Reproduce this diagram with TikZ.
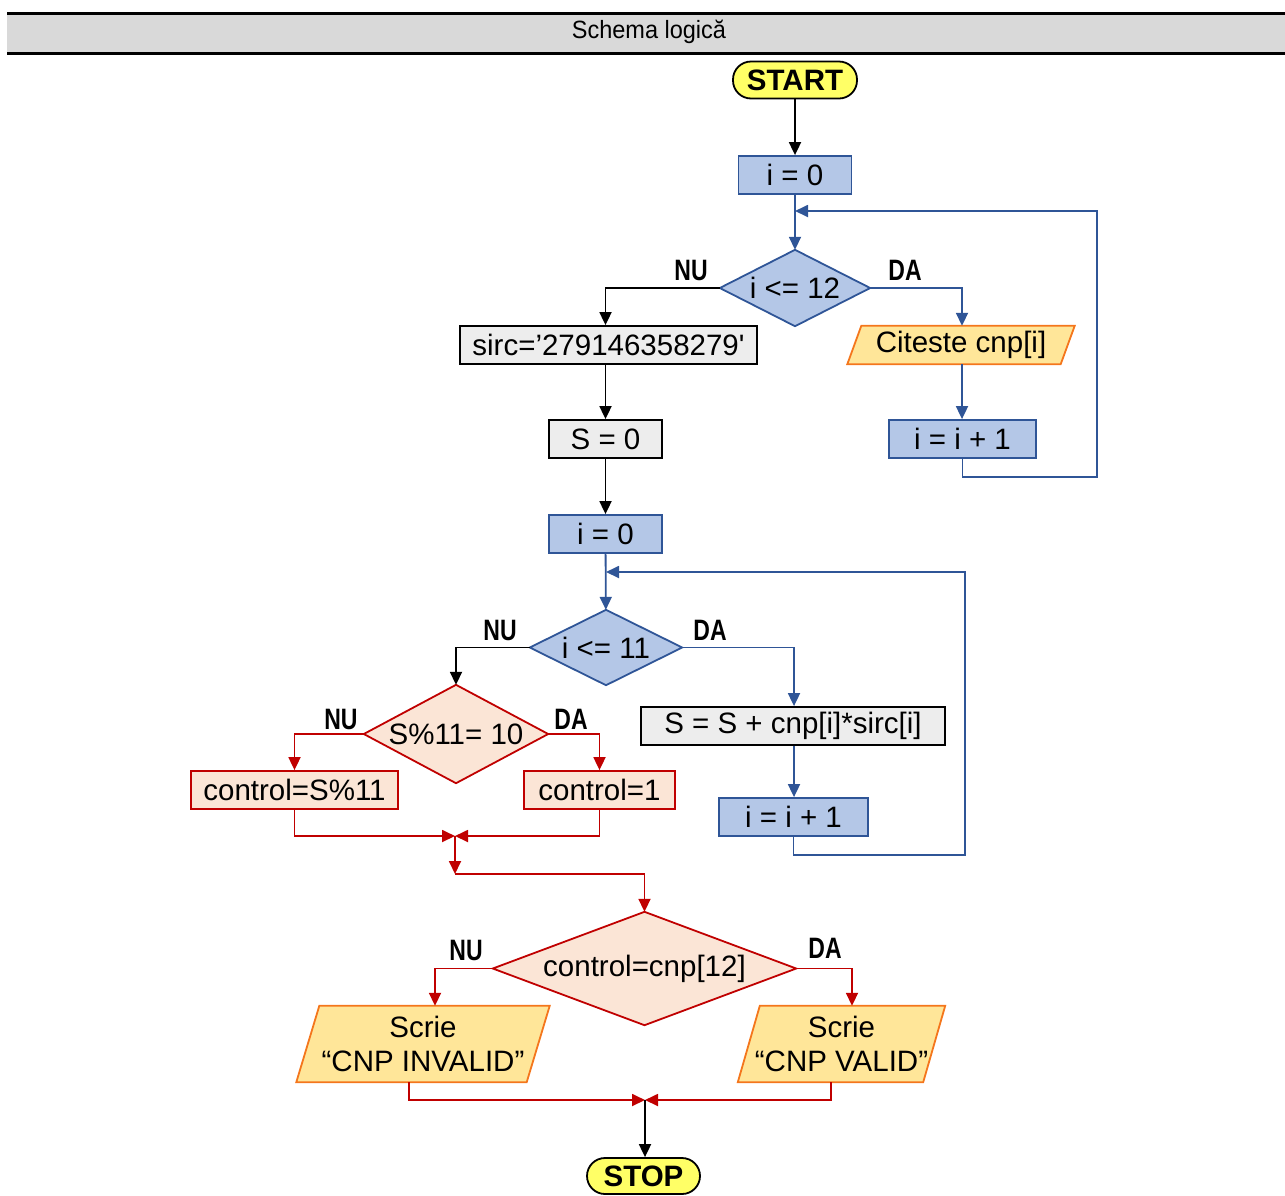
\documentclass[tikz,border=0pt]{standalone}
\usepackage{fontspec}
\setmainfont{Liberation Sans}[Ligatures=TeXOff]
\newfontfamily\lblfont{Liberation Sans}[FakeStretch=0.78, Ligatures=TeXOff]
\newfontfamily\ttlfont{Liberation Sans}[FakeStretch=0.94, Ligatures=TeXOff]
\usetikzlibrary{arrows.meta,backgrounds,calc}

\definecolor{hdrgray}{HTML}{D9D9D9}
\definecolor{bfill}{HTML}{B4C7E7}
\definecolor{bline}{HTML}{2F5597}
\definecolor{gfill}{HTML}{EDEDED}
\definecolor{pfill}{HTML}{FBE5D6}
\definecolor{rline}{HTML}{C00000}
\definecolor{ofill}{HTML}{FFE699}
\definecolor{oline}{HTML}{F4761C}
\definecolor{tfill}{HTML}{FFFF66}

\newcommand\fsmain{\fontsize{29.5}{34}\selectfont}

\begin{document}
\begin{tikzpicture}[x=1pt,y=-1pt,
  box/.style={rectangle, draw, line width=1.8pt, inner sep=0pt, minimum height=38pt, font=\fsmain},
  bluebox/.style={box, fill=bfill, draw=bline},
  graybox/.style={box, fill=gfill, draw=black},
  redbox/.style={box, fill=pfill, draw=rline},
  area/.style={rectangle, inner sep=0pt, font=\fsmain},
  term/.style={rectangle, rounded corners=18pt, draw=black, fill=tfill, line width=1.8pt,
    inner sep=0pt, minimum height=37pt, font=\bfseries\fsmain},
  flow/.style={line width=1.8pt, -{Triangle[length=13pt,width=12pt]}},
  lbl/.style={font=\lblfont\bfseries\fontsize{29.5}{32}\selectfont},
  shapeline/.style={line width=1.8pt, line join=miter}
]
\useasboundingbox (0,0) rectangle (1285,1195);

% title bar
\fill[hdrgray] (7,14) rectangle (1285,53);
\draw[line width=3pt] (7,13.5) -- (1285,13.5);
\draw[line width=3pt] (7,53) -- (1285,53);
\node (title) at (649,32) {\ttlfont\fontsize{25}{28}\selectfont Schema logică};

% nodes
\node[term, minimum width=124pt] (start) at (795,80) {START};
\node[bluebox, minimum width=113pt] (i0a) at (795,175) {i = 0};
\node[area, minimum width=150pt, minimum height=76pt] (c1) at (795,288) {i <= 12};
\node[graybox, minimum width=297pt] (sirc) at (608.5,345) {sirc=’279146358279'};
\node[area, minimum width=213pt, minimum height=38pt] (rd) at (961,345) {Citeste cnp[i]};
\node[bluebox, minimum width=147pt] (inc1) at (962.5,439) {i = i + 1};
\node[graybox, minimum width=113pt] (s0) at (605.5,439) {S = 0};
\node[bluebox, minimum width=113pt] (i0b) at (605.5,534) {i = 0};
\node[area, minimum width=152pt, minimum height=75pt] (c2) at (606,647.5) {i <= 11};
\node[graybox, minimum width=304pt] (sum) at (793,726) {S = S + cnp[i]*sirc[i]};
\node[bluebox, minimum width=149pt] (inc2) at (793.5,817) {i = i + 1};
\node[area, minimum width=184pt, minimum height=98pt] (c3) at (456,734) {S\%11= 10};
\node[redbox, minimum width=207pt] (ctlA) at (294.5,790) {control=S\%11};
\node[redbox, minimum width=151pt] (ctlB) at (599.5,790) {control=1};
\node[area, minimum width=303pt, minimum height=113pt] (c4) at (644.5,968.5) {control=cnp[12]};
\node[area, minimum width=230pt, minimum height=76pt, align=center] (wInv) at (423,1044) {Scrie\\“CNP INVALID”};
\node[area, minimum width=185pt, minimum height=76pt, align=center] (wVal) at (841.5,1044) {Scrie\\“CNP VALID”};
\node[term, minimum width=113pt, minimum height=36pt] (stop) at (643.5,1176) {STOP};

% diamond and parallelogram outlines behind the texts
\begin{scope}[on background layer]
  \filldraw[shapeline, draw=bline, fill=bfill] (c1.north) -- (c1.east) -- (c1.south) -- (c1.west) -- cycle;
  \filldraw[shapeline, draw=bline, fill=bfill] (c2.north) -- (c2.east) -- (c2.south) -- (c2.west) -- cycle;
  \filldraw[shapeline, draw=rline, fill=pfill] (c3.north) -- (c3.east) -- (c3.south) -- (c3.west) -- cycle;
  \filldraw[shapeline, draw=rline, fill=pfill] (c4.north) -- (c4.east) -- (c4.south) -- (c4.west) -- cycle;
  \filldraw[shapeline, draw=oline, fill=ofill]
    ($(rd.north west)+(7,0)$) -- ($(rd.north east)+(7,0)$) -- ($(rd.south east)+(-7,0)$) -- ($(rd.south west)+(-7,0)$) -- cycle;
  \filldraw[shapeline, draw=oline, fill=ofill]
    ($(wInv.north west)+(11.5,0)$) -- ($(wInv.north east)+(11.5,0)$) -- ($(wInv.south east)+(-11.5,0)$) -- ($(wInv.south west)+(-11.5,0)$) -- cycle;
  \filldraw[shapeline, draw=oline, fill=ofill]
    ($(wVal.north west)+(11,0)$) -- ($(wVal.north east)+(11,0)$) -- ($(wVal.south east)+(-11,0)$) -- ($(wVal.south west)+(-11,0)$) -- cycle;
\end{scope}

% junction points of the loops and merges
\coordinate (m1) at (795,211);
\coordinate (r1) at (1097,477);
\coordinate (m2) at (606,572);
\coordinate (r2) at (965,855);
\coordinate (j1) at (455,836);
\coordinate (j1b) at (455,874);
\coordinate (j2) at (645,1100);

% first loop: reading the digits
\draw[flow] (start) -- (i0a);
\draw[flow, bline] (i0a) -- (c1);
\draw[flow] (c1.west) -| (sirc.north -| s0.north);
\draw[flow, bline] (c1.east) -| ([xshift=1pt]rd.north);
\draw[flow, bline] ([xshift=1pt]rd.south) -- ([xshift=1pt]rd.south |- inc1.north);
\draw[flow, bline] (inc1.south) |- (r1) |- (m1);

% checksum
\draw[flow] (sirc.south -| s0.north) -- (s0.north);
\draw[flow] (s0) -- (i0b);
\draw[flow, bline] (i0b) -- (c2);
\draw[flow] (c2.west) -| (c3.north);
\draw[flow, bline] (c2.east) -| ([xshift=1pt]sum.north);
\draw[flow, bline] ([xshift=1pt]sum.south) -- ([xshift=1pt]sum.south |- inc2.north);
\draw[flow, bline] (inc2.south) |- (r2) |- (m2);

% control digit
\draw[flow, rline] (c3.west) -| (ctlA.north);
\draw[flow, rline] (c3.east) -| (ctlB.north);
\draw[flow, rline] (ctlA.south) |- (j1);
\draw[flow, rline] (ctlB.south) |- (j1);
\draw[flow, rline] (j1) -- (j1b);
\draw[flow, rline] (j1b) -| (c4.north);

% result
\draw[flow, rline] (c4.west) -| ([xshift=12pt]wInv.north);
\draw[flow, rline] (c4.east) -| ([xshift=10.5pt]wVal.north);
\draw[flow, rline] ([xshift=-14pt]wInv.south) |- (j2);
\draw[flow, rline] ([xshift=-10.5pt]wVal.south) |- (j2);
\draw[flow] (j2) -- (j2 |- stop.north);

% branch labels
\node[lbl] (nu1) at (691,270.5) {NU};
\node[lbl] (da1) at (905,270.5) {DA};
\node[lbl] (nu2) at (500,630) {NU};
\node[lbl] (da2) at (710,630) {DA};
\node[lbl] (nu3) at (341,719) {NU};
\node[lbl] (da3) at (571,719) {DA};
\node[lbl] (nu4) at (466,950) {NU};
\node[lbl] (da4) at (825,948) {DA};
\end{tikzpicture}
\end{document}
